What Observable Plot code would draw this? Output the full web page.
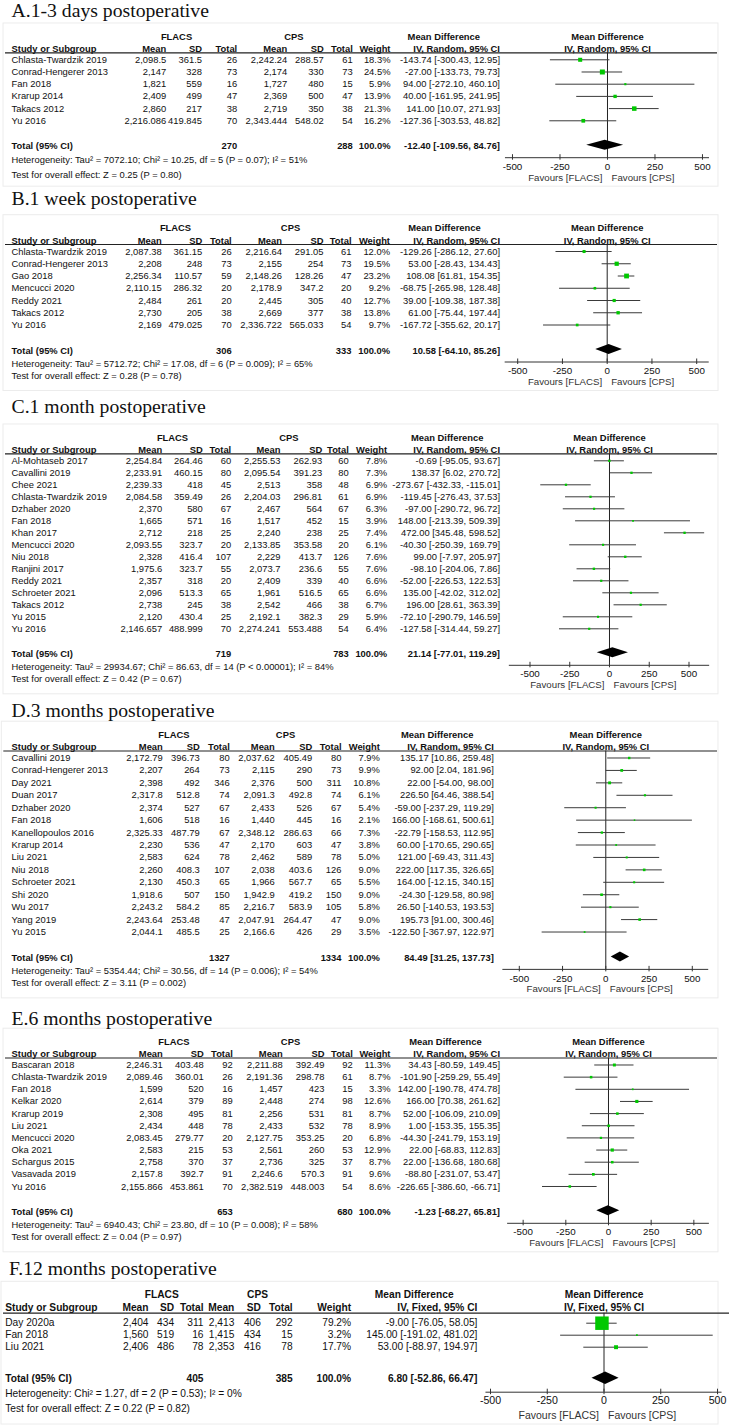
<!DOCTYPE html>
<html><head><meta charset="utf-8">
<script src="https://cdn.jsdelivr.net/npm/d3@7"></script>
<script src="https://cdn.jsdelivr.net/npm/@observablehq/plot@0.6"></script>
<style>
html,body{margin:0;padding:0;background:#fff;overflow:hidden;}
#root{position:relative;width:733px;height:1428px;overflow:hidden;background:#fff;}
#root svg{position:absolute;left:0;}
</style></head>
<body><div id="root"></div>
<script>
// ================= DATA =================
const HEADER_COLS = ["Study or Subgroup","Mean","SD","Total","Mean","SD","Total","Weight"];
const GROUPS = ["FLACS","CPS","Mean Difference"];
const TICKS = [-500,-250,0,250,500];
const FAVOURS = ["Favours [FLACS]","Favours [CPS]"];
const METHOD_RANDOM = "IV, Random, 95% CI";
const METHOD_FIXED = "IV, Fixed, 95% CI";

const A_title = "A.1-3 days postoperative";
const A_rows = [
 ["Chlasta-Twardzik 2019","2,098.5","361.5","26","2,242.24","288.57","61","18.3%","-143.74 [-300.43, 12.95]"],
 ["Conrad-Hengerer 2013","2,147","328","73","2,174","330","73","24.5%","-27.00 [-133.73, 79.73]"],
 ["Fan 2018","1,821","559","16","1,727","480","15","5.9%","94.00 [-272.10, 460.10]"],
 ["Krarup 2014","2,409","499","47","2,369","500","47","13.9%","40.00 [-161.95, 241.95]"],
 ["Takacs 2012","2,860","217","38","2,719","350","38","21.3%","141.00 [10.07, 271.93]"],
 ["Yu 2016","2,216.086","419.845","70","2,343.444","548.02","54","16.2%","-127.36 [-303.53, 48.82]"]
];
const A_total = ["Total (95% CI)","","","270","","","288","100.0%","-12.40 [-109.56, 84.76]"];
const A_het = "Heterogeneity: Tau² = 7072.10; Chi² = 10.25, df = 5 (P = 0.07); I² = 51%";
const A_test = "Test for overall effect: Z = 0.25 (P = 0.80)";

const B_title = "B.1 week postoperative";
const B_rows = [
 ["Chlasta-Twardzik 2019","2,087.38","361.15","26","2,216.64","291.05","61","12.0%","-129.26 [-286.12, 27.60]"],
 ["Conrad-Hengerer 2013","2,208","248","73","2,155","254","73","19.5%","53.00 [-28.43, 134.43]"],
 ["Gao 2018","2,256.34","110.57","59","2,148.26","128.26","47","23.2%","108.08 [61.81, 154.35]"],
 ["Mencucci 2020","2,110.15","286.32","20","2,178.9","347.2","20","9.2%","-68.75 [-265.98, 128.48]"],
 ["Reddy 2021","2,484","261","20","2,445","305","40","12.7%","39.00 [-109.38, 187.38]"],
 ["Takacs 2012","2,730","205","38","2,669","377","38","13.8%","61.00 [-75.44, 197.44]"],
 ["Yu 2016","2,169","479.025","70","2,336.722","565.033","54","9.7%","-167.72 [-355.62, 20.17]"]
];
const B_total = ["Total (95% CI)","","","306","","","333","100.0%","10.58 [-64.10, 85.26]"];
const B_het = "Heterogeneity: Tau² = 5712.72; Chi² = 17.08, df = 6 (P = 0.009); I² = 65%";
const B_test = "Test for overall effect: Z = 0.28 (P = 0.78)";

const C_title = "C.1 month postoperative";
const C_rows = [
 ["Al-Mohtaseb 2017","2,254.84","264.46","60","2,255.53","262.93","60","7.8%","-0.69 [-95.05, 93.67]"],
 ["Cavallini 2019","2,233.91","460.15","80","2,095.54","391.23","80","7.3%","138.37 [6.02, 270.72]"],
 ["Chee 2021","2,239.33","418","45","2,513","358","48","6.9%","-273.67 [-432.33, -115.01]"],
 ["Chlasta-Twardzik 2019","2,084.58","359.49","26","2,204.03","296.81","61","6.9%","-119.45 [-276.43, 37.53]"],
 ["Dzhaber 2020","2,370","580","67","2,467","564","67","6.3%","-97.00 [-290.72, 96.72]"],
 ["Fan 2018","1,665","571","16","1,517","452","15","3.9%","148.00 [-213.39, 509.39]"],
 ["Khan 2017","2,712","218","25","2,240","238","25","7.4%","472.00 [345.48, 598.52]"],
 ["Mencucci 2020","2,093.55","323.7","20","2,133.85","353.58","20","6.1%","-40.30 [-250.39, 169.79]"],
 ["Niu 2018","2,328","416.4","107","2,229","413.7","126","7.6%","99.00 [-7.97, 205.97]"],
 ["Ranjini 2017","1,975.6","323.7","55","2,073.7","236.6","55","7.6%","-98.10 [-204.06, 7.86]"],
 ["Reddy 2021","2,357","318","20","2,409","339","40","6.6%","-52.00 [-226.53, 122.53]"],
 ["Schroeter 2021","2,096","513.3","65","1,961","516.5","65","6.6%","135.00 [-42.02, 312.02]"],
 ["Takacs 2012","2,738","245","38","2,542","466","38","6.7%","196.00 [28.61, 363.39]"],
 ["Yu 2015","2,120","430.4","25","2,192.1","382.3","29","5.9%","-72.10 [-290.79, 146.59]"],
 ["Yu 2016","2,146.657","488.999","70","2,274.241","553.488","54","6.4%","-127.58 [-314.44, 59.27]"]
];
const C_total = ["Total (95% CI)","","","719","","","783","100.0%","21.14 [-77.01, 119.29]"];
const C_het = "Heterogeneity: Tau² = 29934.67; Chi² = 86.63, df = 14 (P < 0.00001); I² = 84%";
const C_test = "Test for overall effect: Z = 0.42 (P = 0.67)";

const D_title = "D.3 months postoperative";
const D_rows = [
 ["Cavallini 2019","2,172.79","396.73","80","2,037.62","405.49","80","7.9%","135.17 [10.86, 259.48]"],
 ["Conrad-Hengerer 2013","2,207","264","73","2,115","290","73","9.9%","92.00 [2.04, 181.96]"],
 ["Day 2021","2,398","492","346","2,376","500","311","10.8%","22.00 [-54.00, 98.00]"],
 ["Duan 2017","2,317.8","512.8","74","2,091.3","492.8","74","6.1%","226.50 [64.46, 388.54]"],
 ["Dzhaber 2020","2,374","527","67","2,433","526","67","5.4%","-59.00 [-237.29, 119.29]"],
 ["Fan 2018","1,606","518","16","1,440","445","16","2.1%","166.00 [-168.61, 500.61]"],
 ["Kanellopoulos 2016","2,325.33","487.79","67","2,348.12","286.63","66","7.3%","-22.79 [-158.53, 112.95]"],
 ["Krarup 2014","2,230","536","47","2,170","603","47","3.8%","60.00 [-170.65, 290.65]"],
 ["Liu 2021","2,583","624","78","2,462","589","78","5.0%","121.00 [-69.43, 311.43]"],
 ["Niu 2018","2,260","408.3","107","2,038","403.6","126","9.0%","222.00 [117.35, 326.65]"],
 ["Schroeter 2021","2,130","450.3","65","1,966","567.7","65","5.5%","164.00 [-12.15, 340.15]"],
 ["Shi 2020","1,918.6","507","150","1,942.9","419.2","150","9.0%","-24.30 [-129.58, 80.98]"],
 ["Wu 2017","2,243.2","584.2","85","2,216.7","583.9","105","5.8%","26.50 [-140.53, 193.53]"],
 ["Yang 2019","2,243.64","253.48","47","2,047.91","264.47","47","9.0%","195.73 [91.00, 300.46]"],
 ["Yu 2015","2,044.1","485.5","25","2,166.6","426","29","3.5%","-122.50 [-367.97, 122.97]"]
];
const D_total = ["Total (95% CI)","","","1327","","","1334","100.0%","84.49 [31.25, 137.73]"];
const D_het = "Heterogeneity: Tau² = 5354.44; Chi² = 30.56, df = 14 (P = 0.006); I² = 54%";
const D_test = "Test for overall effect: Z = 3.11 (P = 0.002)";

const E_title = "E.6 months postoperative";
const E_rows = [
 ["Bascaran 2018","2,246.31","403.48","92","2,211.88","392.49","92","11.3%","34.43 [-80.59, 149.45]"],
 ["Chlasta-Twardzik 2019","2,089.46","360.01","26","2,191.36","298.78","61","8.7%","-101.90 [-259.29, 55.49]"],
 ["Fan 2018","1,599","520","16","1,457","423","15","3.3%","142.00 [-190.78, 474.78]"],
 ["Kelkar 2020","2,614","379","89","2,448","274","98","12.6%","166.00 [70.38, 261.62]"],
 ["Krarup 2019","2,308","495","81","2,256","531","81","8.7%","52.00 [-106.09, 210.09]"],
 ["Liu 2021","2,434","448","78","2,433","532","78","8.9%","1.00 [-153.35, 155.35]"],
 ["Mencucci 2020","2,083.45","279.77","20","2,127.75","353.25","20","6.8%","-44.30 [-241.79, 153.19]"],
 ["Oka 2021","2,583","215","53","2,561","260","53","12.9%","22.00 [-68.83, 112.83]"],
 ["Schargus 2015","2,758","370","37","2,736","325","37","8.7%","22.00 [-136.68, 180.68]"],
 ["Vasavada 2019","2,157.8","392.7","91","2,246.6","570.3","91","9.6%","-88.80 [-231.07, 53.47]"],
 ["Yu 2016","2,155.866","453.861","70","2,382.519","448.003","54","8.6%","-226.65 [-386.60, -66.71]"]
];
const E_total = ["Total (95% CI)","","","653","","","680","100.0%","-1.23 [-68.27, 65.81]"];
const E_het = "Heterogeneity: Tau² = 6940.43; Chi² = 23.80, df = 10 (P = 0.008); I² = 58%";
const E_test = "Test for overall effect: Z = 0.04 (P = 0.97)";

const F_title = "F.12 months postoperative";
const F_rows = [
 ["Day 2020a","2,404","434","311","2,413","406","292","79.2%","-9.00 [-76.05, 58.05]"],
 ["Fan 2018","1,560","519","16","1,415","434","15","3.2%","145.00 [-191.02, 481.02]"],
 ["Liu 2021","2,406","486","78","2,353","416","78","17.7%","53.00 [-88.97, 194.97]"]
];
const F_total = ["Total (95% CI)","","","405","","","385","100.0%","6.80 [-52.86, 66.47]"];
const F_het = "Heterogeneity: Chi² = 1.27, df = 2 (P = 0.53); I² = 0%";
const F_test = "Test for overall effect: Z = 0.22 (P = 0.82)";

// ================= LAYOUT (page pixels) =================
const LAYOUT = {
  A: {titleBase:17.3, titleX:11, y0:59.6, pitch:12.2, zero:607, unit:0.19, ext:537,
      cols:[11,165.7,201.5,236.7,286.7,323.3,352.3,390,499.5], groups:[176,293.3,443.3], lineX:[5,717],
      fontSize:9.4, px:{het:160, test:174.5}},
  B: {titleBase:205, titleX:11, y0:251, pitch:12.25, zero:606.7, unit:0.179, ext:570,
      cols:[11,161.2,201.8,231.2,281.5,323,351,389.5,499.5], groups:[175,290,444], lineX:[5,717], fontSize:9.4},
  C: {titleBase:412.7, titleX:11, y0:460, pitch:12.0, zero:609, unit:0.159, ext:630,
      cols:[11,161.7,202.3,230.7,280,321.7,348.3,386.7,499.5], groups:[172,288.3,446.7], lineX:[5,717], fontSize:9.4},
  D: {titleBase:716.5, titleX:11, y0:757, pitch:12.43, zero:605.3, unit:0.173, ext:595,
      cols:[11,162.3,199.3,229.3,274.3,311.7,341,379.3,493.3], groups:[173.3,285,436.7], lineX:[3.3,717], fontSize:9.4},
  E: {titleBase:1025, titleX:11, y0:1064.5, pitch:12.15, zero:608, unit:0.1707, ext:591,
      cols:[11,162.3,203.3,232.3,282.3,324,352.3,390,499.5], groups:[173.3,290,445], lineX:[5,717], fontSize:9.4},
  F: {titleBase:1275, titleX:8.4, y0:1322.7, pitch:12.0, zero:603.5, unit:0.227, ext:520,
      cols:[4.7,148,173.6,203,233.8,260.4,292.2,350.6,476.9], groups:[161.3,257,413.7], lineX:[3,729],
      fontSize:10.2, dh:6.3,
      px:{header1:1294.3, header2:1307.7, line:1312.7, total:1377.7, het:1393.3, test:1408.3, axis:1391.7, tick:1400, fav:1415}}
};

const SANS = "Liberation Sans, Arial, Helvetica, sans-serif";
const SERIF = "Liberation Serif, Times New Roman, serif";
const INK = "#111";
const CI_RE = /(-?[\d.]+) \[(-?[\d.]+), (-?[\d.]+)\]/;

function drawPanel(key, title, rows, total, het, test, method) {
  const L = LAYOUT[key];
  const n = rows.length, p = L.pitch, fs = L.fontSize;
  const px = {header1: L.y0 - 23.3, header2: L.y0 - 11, line: L.y0 - 7, total: L.y0 + (n + 1) * p};
  Object.assign(px, {het: px.total + 14, test: px.total + 26.5, axis: px.total + 12.5,
                     tick: px.total + 21.5, fav: px.total + 32.5});
  Object.assign(px, L.px || {});
  const T = L.titleBase - 24, Bt = px.fav + 14, H = Bt - T;
  const idx = v => (v - L.y0) / p;
  const yOpt = {type: "linear", domain: [idx(T), idx(Bt)], range: [0, H], axis: null};

  const cells = rows.flatMap((r, i) => r.map((t, j) => ({i, j, t})));
  const tIdx = idx(px.total + 1);
  const totCells = total.map((t, j) => ({j, t})).filter(d => d.t);
  const hdr = [...HEADER_COLS, method].map((t, j) => ({j, t}));
  const txt = {fontFamily: SANS, fontSize: fs, fill: INK};

  const table = Plot.plot({
    width: 733, height: H, margin: 0,
    x: {type: "linear", domain: [0, 733], range: [0, 733], axis: null},
    y: yOpt,
    style: {background: "transparent", overflow: "visible"},
    marks: [
      Plot.rect([0], {x1: L.lineX[0] - 2, x2: 718, y1: idx(px.header1 - 13), y2: idx(px.fav + 9),
                      fill: "none", stroke: "#ececec"}),
      Plot.text([title], {x: L.titleX, y: idx(L.titleBase - 6.4), text: d => d, textAnchor: "start",
                          fontFamily: SERIF, fontSize: 19.7, fill: "#111"}),
      Plot.text(GROUPS, {x: (d, i) => L.groups[i], y: idx(px.header1), text: d => d, ...txt, fontWeight: "bold"}),
      Plot.text(hdr.filter(d => d.j === 0), {x: () => L.cols[0], y: idx(px.header2), text: "t",
                textAnchor: "start", ...txt, fontWeight: "bold"}),
      Plot.text(hdr.filter(d => d.j > 0), {x: d => L.cols[d.j], y: idx(px.header2), text: "t",
                textAnchor: "end", ...txt, fontWeight: "bold"}),
      Plot.ruleY([idx(px.line)], {x1: L.lineX[0], x2: L.lineX[1], stroke: "#222", strokeWidth: 1.2}),
      Plot.text(cells.filter(d => d.j === 0), {x: () => L.cols[0], y: "i", text: "t", textAnchor: "start", ...txt}),
      Plot.text(cells.filter(d => d.j > 0), {x: d => L.cols[d.j], y: "i", text: "t", textAnchor: "end", ...txt}),
      Plot.text(totCells.filter(d => d.j === 0), {x: () => L.cols[0], y: tIdx, text: "t", textAnchor: "start",
                ...txt, fontWeight: "bold"}),
      Plot.text(totCells.filter(d => d.j > 0), {x: d => L.cols[d.j], y: tIdx, text: "t", textAnchor: "end",
                ...txt, fontWeight: "bold"}),
      Plot.text([het, test], {x: L.cols[0], y: (d, i) => idx(i ? px.test : px.het), text: d => d,
                textAnchor: "start", ...txt})
    ]
  });

  const data = rows.map((r, i) => {
    const m = r[8].match(CI_RE);
    return {i, md: +m[1], lo: +m[2], hi: +m[3], w: parseFloat(r[7])};
  });
  const tm = total[8].match(CI_RE);
  const tot = {md: +tm[1], lo: +tm[2], hi: +tm[3]};
  const tY = idx(px.total), dh = (L.dh || 5) / p;
  const diamond = [
    {y: tY - dh, x1: tot.md, x2: tot.md},
    {y: tY, x1: tot.lo, x2: tot.hi},
    {y: tY + dh, x1: tot.md, x2: tot.md}
  ];
  const xl = L.zero - 500 * L.unit, xr = L.zero + 500 * L.unit;

  const forest = Plot.plot({
    width: 733, height: H, marginLeft: xl, marginRight: 733 - xr, marginTop: 0, marginBottom: 0,
    x: {type: "linear", domain: [-500, 500], axis: null},
    y: yOpt,
    r: {type: "linear", domain: [0, 100], range: [0.68, 9.42]},
    style: {background: "transparent", overflow: "visible"},
    marks: [
      Plot.text(["Mean Difference"], {x: 0, y: idx(px.header1), text: d => d, ...txt, fontWeight: "bold"}),
      Plot.text([method], {x: 0, y: idx(px.header2), text: d => d, ...txt, fontWeight: "bold"}),
      Plot.ruleX([0], {y1: idx(px.line), y2: idx(px.axis), stroke: "#222", strokeWidth: 1}),
      Plot.ruleY(data, {y: "i", x1: "lo", x2: "hi", stroke: "#3a3a3a", strokeWidth: 1}),
      Plot.dot(data, {x: "md", y: "i", r: "w", symbol: "square", fill: "#00c800"}),
      Plot.areaX(diamond, {y: "y", x1: "x1", x2: "x2", fill: "#000"}),
      Plot.ruleY([idx(px.axis)], {x1: -L.ext, x2: L.ext, stroke: "#333", strokeWidth: 1}),
      Plot.ruleX(TICKS, {y1: idx(px.axis - 3), y2: idx(px.axis + 2.5), stroke: "#333", strokeWidth: 1}),
      Plot.text(TICKS, {x: d => d, y: idx(px.tick), text: d => String(d), ...txt, fontSize: fs + 0.4}),
      Plot.text([FAVOURS[0]], {x: 0, y: idx(px.fav), text: d => d, dx: -5, textAnchor: "end", ...txt,
                fill: "#333", fontSize: fs + 0.3}),
      Plot.text([FAVOURS[1]], {x: 0, y: idx(px.fav), text: d => d, dx: 4, textAnchor: "start", ...txt,
                fill: "#333", fontSize: fs + 0.3})
    ]
  });

  const root = document.getElementById("root");
  for (const el of [table, forest]) {
    el.style.position = "absolute";
    el.style.left = "0px";
    el.style.top = T + "px";
    el.style.maxWidth = "none";
    root.appendChild(el);
  }
}

drawPanel("A", A_title, A_rows, A_total, A_het, A_test, METHOD_RANDOM);
drawPanel("B", B_title, B_rows, B_total, B_het, B_test, METHOD_RANDOM);
drawPanel("C", C_title, C_rows, C_total, C_het, C_test, METHOD_RANDOM);
drawPanel("D", D_title, D_rows, D_total, D_het, D_test, METHOD_RANDOM);
drawPanel("E", E_title, E_rows, E_total, E_het, E_test, METHOD_RANDOM);
drawPanel("F", F_title, F_rows, F_total, F_het, F_test, METHOD_FIXED);
</script>
</body></html>
